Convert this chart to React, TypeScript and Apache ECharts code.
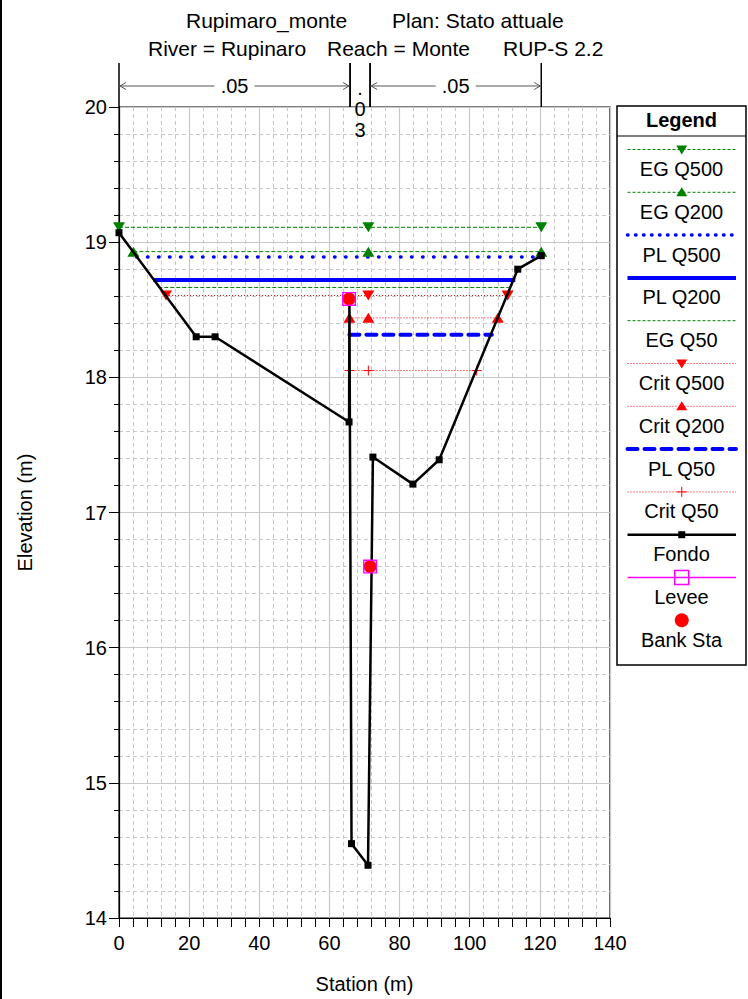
import React, { useEffect, useRef } from "react";
import * as echarts from "echarts";

// ---------- data ----------
const fondoStation = [0, 22.0, 27.4, 65.6, 65.7, 66.3, 71.0, 72.4, 83.8, 91.3, 113.7, 120.4];
const fondoElev = [19.07, 18.3, 18.3, 17.67, 18.58, 14.55, 14.39, 17.41, 17.21, 17.39, 18.8, 18.9];

const bankStation = [65.6, 71.6];
const bankElev = [18.58, 16.6];

const egQ500Station = [0, 71.1, 120.4];
const egQ500Elev = 19.11;
const egQ200Station = [4.1, 71.1, 120.4];
const egQ200Elev = 18.93;
const plQ500Station = [5.0, 120.3];
const plQ500Elev = 18.89;
const plQ200Station = [9.8, 113.0];
const plQ200Elev = 18.72;
const egQ50Station = [11.2, 111.8];
const egQ50Elev = 18.665;
const critQ500Station = [13.4, 71.1, 110.8];
const critQ500Elev = 18.605;
const critQ200Station = [65.7, 71.1, 108.0];
const critQ200Elev = 18.44;
const plQ50Station = [65.7, 106.3];
const plQ50Elev = 18.315;
const critQ50Station = [65.7, 71.1, 102.0];
const critQ50Elev = 18.05;

const manningBreaks = [0, 65.9, 71.6, 120.4];
const manningN = [0.05, 0.03, 0.05];

const xTicks = { min: 0, max: 140, interval: 20 };
const yTicks = { min: 14, max: 20, interval: 1 };

const titleLine1 = ["Rupimaro_monte", "Plan: Stato attuale"];
const titleLine2 = ["River = Rupinaro", "Reach = Monte", "RUP-S 2.2"];

const legendNames = [
  "EG Q500", "EG Q200", "PL Q500", "PL Q200", "EG Q50", "Crit Q500",
  "Crit Q200", "PL Q50", "Crit Q50", "Fondo", "Levee", "Bank Sta",
];

// ---------- styles ----------
const FONT = "Liberation Sans, Arial, sans-serif";
const GREEN = "#008000";
const BLUE = "#0000ff";
const RED = "#ff0000";
const MAGENTA = "#ff00ff";
const PLUS = "path://M5,0L5,10M0,5L10,5";
const FRAME = "path://M0,0L10,0L10,10L0,10Z M1,1L1,9L9,9L9,1Z";

const flat = (st: number[], e: number) => st.map((s) => [s, e]);
const pairs = (a: number[], b: number[]) => a.map((s, i) => [s, b[i]]);

type LegendSpec = {
  color: string;
  width: number;
  dash: number[] | null;
  cap?: string;
  marker?: string;
  line?: boolean;
};

const legendStyles: LegendSpec[] = [
  { color: GREEN, width: 1, dash: [3, 2], marker: "down" },
  { color: GREEN, width: 1, dash: [3, 2], marker: "up" },
  { color: BLUE, width: 3.5, dash: [0.5, 7.5], cap: "round" },
  { color: BLUE, width: 4, dash: null },
  { color: GREEN, width: 1, dash: [3, 2] },
  { color: RED, width: 1, dash: [1, 2], marker: "down" },
  { color: RED, width: 1, dash: [1, 2], marker: "up" },
  { color: BLUE, width: 4, dash: [10, 7], cap: "round" },
  { color: RED, width: 1, dash: [1, 2], marker: "plus" },
  { color: "#000", width: 2.5, dash: null, marker: "square" },
  { color: MAGENTA, width: 1.5, dash: null, marker: "hollow" },
  { color: RED, width: 0, dash: null, marker: "circle", line: false },
];

function buildLegend(): any[] {
  const x0 = 617, x1 = 746, top = 106, bottom = 665;
  const els: any[] = [
    { type: "rect", shape: { x: x0, y: top, width: x1 - x0, height: bottom - top }, style: { fill: "#fff", stroke: "#000", lineWidth: 1.5 }, z: 10 },
    { type: "line", shape: { x1: x0, y1: 136, x2: x1, y2: 136 }, style: { stroke: "#000", lineWidth: 1.2 }, z: 11 },
    { type: "text", x: (x0 + x1) / 2, y: 120, style: { text: "Legend", font: `bold 20px ${FONT}`, fill: "#000", align: "center", verticalAlign: "middle" }, z: 11 },
  ];
  const lx1 = 627.5, lx2 = 736, cx = (lx1 + lx2) / 2;
  legendNames.forEach((name, i) => {
    const st = legendStyles[i];
    const ly = 149.5 + i * 42.8;
    if (st.line !== false) {
      els.push({ type: "line", shape: { x1: lx1, y1: ly, x2: lx2, y2: ly }, style: { stroke: st.color, lineWidth: st.width, lineDash: st.dash || undefined, lineCap: st.cap || "butt" }, z: 11 });
    }
    if (st.marker === "down") {
      els.push({ type: "polygon", shape: { points: [[cx - 5.5, ly - 4], [cx + 5.5, ly - 4], [cx, ly + 5]] }, style: { fill: st.color }, z: 12 });
    } else if (st.marker === "up") {
      els.push({ type: "polygon", shape: { points: [[cx - 5.5, ly + 4], [cx + 5.5, ly + 4], [cx, ly - 5]] }, style: { fill: st.color }, z: 12 });
    } else if (st.marker === "plus") {
      els.push({ type: "line", shape: { x1: cx - 5, y1: ly, x2: cx + 5, y2: ly }, style: { stroke: st.color, lineWidth: 1 }, z: 12 });
      els.push({ type: "line", shape: { x1: cx, y1: ly - 5, x2: cx, y2: ly + 5 }, style: { stroke: st.color, lineWidth: 1 }, z: 12 });
    } else if (st.marker === "square") {
      els.push({ type: "rect", shape: { x: cx - 3.5, y: ly - 3.5, width: 7, height: 7 }, style: { fill: st.color }, z: 12 });
    } else if (st.marker === "hollow") {
      els.push({ type: "rect", shape: { x: cx - 7, y: ly - 7, width: 14, height: 14 }, style: { fill: "none", stroke: st.color, lineWidth: 1.5 }, z: 12 });
    } else if (st.marker === "circle") {
      els.push({ type: "circle", shape: { cx, cy: ly, r: 7 }, style: { fill: st.color }, z: 12 });
    }
    els.push({ type: "text", x: (x0 + x1) / 2, y: ly + 19.5, style: { text: name, font: `20px ${FONT}`, fill: "#000", align: "center", verticalAlign: "middle" }, z: 11 });
  });
  return els;
}

function buildTitle(): any[] {
  const t = (text: string, x: number, y: number) => ({
    type: "text", x, y, style: { text, font: `21px ${FONT}`, fill: "#000", align: "left", verticalAlign: "middle" },
  });
  return [
    t(titleLine1[0], 186, 20),
    t(titleLine1[1], 392, 20),
    t(titleLine2[0], 148, 48),
    t(titleLine2[1], 327, 48),
    t(titleLine2[2], 503, 48),
    { type: "line", shape: { x1: 1, y1: 0, x2: 1, y2: 999 }, style: { stroke: "#000", lineWidth: 2 } },
  ];
}

function manningRender(params: any, api: any) {
  const s0 = api.value(0), s1 = api.value(1), n = api.value(2);
  const p0 = api.coord([s0, yTicks.max]);
  const p1 = api.coord([s1, yTicks.max]);
  const top = p0[1];
  const yA = top - 21;
  const label = String(n).replace(/^0/, "");
  const children: any[] = [
    { type: "line", shape: { x1: p0[0], y1: top - 44, x2: p0[0], y2: top }, style: { stroke: "#000", lineWidth: 1.5 } },
    { type: "line", shape: { x1: p1[0], y1: top - 44, x2: p1[0], y2: top }, style: { stroke: "#000", lineWidth: 1.5 } },
  ];
  const w = p1[0] - p0[0];
  const mid = (p0[0] + p1[0]) / 2;
  if (w > 60) {
    const gap = 20;
    const a = "#555";
    children.push(
      { type: "line", shape: { x1: p0[0], y1: yA, x2: mid - gap, y2: yA }, style: { stroke: a, lineWidth: 1 } },
      { type: "line", shape: { x1: mid + gap, y1: yA, x2: p1[0], y2: yA }, style: { stroke: a, lineWidth: 1 } },
      { type: "polyline", shape: { points: [[p0[0] + 7, yA - 3.5], [p0[0] + 1, yA], [p0[0] + 7, yA + 3.5]] }, style: { stroke: a, fill: "none", lineWidth: 1 } },
      { type: "polyline", shape: { points: [[p1[0] - 7, yA - 3.5], [p1[0] - 1, yA], [p1[0] - 7, yA + 3.5]] }, style: { stroke: a, fill: "none", lineWidth: 1 } },
      { type: "text", style: { text: label, x: mid, y: yA, font: `20px ${FONT}`, fill: "#000", align: "center", verticalAlign: "middle" } }
    );
  } else {
    const chars = label.split("");
    chars.forEach((c, i) => {
      children.push({ type: "text", style: { text: c, x: mid, y: top + 2 + (i - 1) * 21, font: `20px ${FONT}`, fill: "#000", align: "center", verticalAlign: "middle" } });
    });
  }
  return { type: "group", children };
}

function lineSeries(name: string, data: number[][], color: string, width: number, type: any, extra: any = {}) {
  return {
    name, type: "line", data, animation: false,
    lineStyle: { color, width, type, cap: extra.cap || "butt" },
    symbol: extra.symbol || "none",
    symbolSize: extra.symbolSize || 0,
    symbolRotate: extra.symbolRotate || 0,
    showSymbol: !!extra.symbol,
    itemStyle: { color, borderColor: color, borderWidth: extra.borderWidth || 0, opacity: 1 },
    z: extra.z || 3,
    silent: true,
  };
}

export default function App() {
  const ref = useRef<HTMLDivElement>(null);
  useEffect(() => {
    document.body.style.margin = "0";
    const chart = echarts.init(ref.current!, null, { renderer: "svg" });
    const manningData = manningN.map((n, i) => [manningBreaks[i], manningBreaks[i + 1], n]);
    const grey = "#c8c8c8";
    chart.setOption({
      animation: false,
      backgroundColor: "#fff",
      textStyle: { fontFamily: FONT },
      grid: { left: 119, right: 138, top: 107, bottom: 76, show: true, borderColor: "#000", borderWidth: 1.2, containLabel: false },
      xAxis: {
        type: "value", min: xTicks.min, max: xTicks.max, interval: xTicks.interval,
        name: "Station (m)", nameLocation: "middle", nameGap: 56,
        nameTextStyle: { fontSize: 20, color: "#000", fontFamily: FONT },
        axisLine: { lineStyle: { color: "#000", width: 1.2 } },
        axisTick: { show: true, length: 9, lineStyle: { color: "#000" } },
        minorTick: { show: true, splitNumber: 5, length: 9, lineStyle: { color: "#000" } },
        axisLabel: { fontSize: 20, color: "#000", margin: 15, fontFamily: FONT },
        splitLine: { show: true, lineStyle: { color: grey, width: 1.2 } },
        minorSplitLine: { show: true, lineStyle: { color: grey, type: [4, 3], width: 1 } },
      },
      yAxis: {
        type: "value", min: yTicks.min, max: yTicks.max, interval: yTicks.interval,
        name: "Elevation (m)", nameLocation: "middle", nameGap: 84, nameRotate: 90,
        nameTextStyle: { fontSize: 20, color: "#000", fontFamily: FONT },
        axisLine: { show: true, lineStyle: { color: "#000", width: 1.2 } },
        axisTick: { show: true, length: 10, lineStyle: { color: "#000" } },
        minorTick: { show: true, splitNumber: 5, length: 5, lineStyle: { color: "#000" } },
        axisLabel: { fontSize: 20, color: "#000", margin: 12, fontFamily: FONT },
        splitLine: { show: true, lineStyle: { color: grey, width: 1.2 } },
        minorSplitLine: { show: true, lineStyle: { color: grey, type: [4, 3], width: 1 } },
      },
      series: [
        lineSeries("EG Q500", flat(egQ500Station, egQ500Elev), GREEN, 1, [4, 2], { symbol: "triangle", symbolSize: [12, 10], symbolRotate: 180 }),
        lineSeries("EG Q200", flat(egQ200Station, egQ200Elev), GREEN, 1, [4, 2], { symbol: "triangle", symbolSize: [12, 10] }),
        lineSeries("PL Q500", flat(plQ500Station, plQ500Elev), BLUE, 3.5, [0.5, 10.5], { cap: "round" }),
        lineSeries("PL Q200", flat(plQ200Station, plQ200Elev), BLUE, 4, "solid"),
        lineSeries("EG Q50", flat(egQ50Station, egQ50Elev), GREEN, 1, [4, 2]),
        lineSeries("Crit Q500", flat(critQ500Station, critQ500Elev), RED, 1, [1, 2], { symbol: "triangle", symbolSize: [12, 10], symbolRotate: 180 }),
        lineSeries("Crit Q200", flat(critQ200Station, critQ200Elev), RED, 1, [1, 2], { symbol: "triangle", symbolSize: [12, 10] }),
        lineSeries("PL Q50", flat(plQ50Station, plQ50Elev), BLUE, 4, [10, 7], { cap: "round" }),
        lineSeries("Crit Q50", flat(critQ50Station, critQ50Elev), RED, 1, [1, 2], { symbol: PLUS, symbolSize: 10, borderWidth: 1 }),
        lineSeries("Fondo", pairs(fondoStation, fondoElev), "#000", 2.5, "solid", { symbol: "rect", symbolSize: 7, z: 4 }),
        {
          name: "Bank Sta", type: "scatter", data: pairs(bankStation, bankElev), symbol: "circle", symbolSize: 13,
          itemStyle: { color: RED, opacity: 1 }, z: 5, silent: true,
        },
        {
          name: "Levee", type: "scatter", data: pairs(bankStation, bankElev), symbol: FRAME, symbolSize: 14,
          itemStyle: { color: MAGENTA, opacity: 1 }, z: 6, silent: true,
        },
        {
          name: "Manning", type: "custom", data: manningData, renderItem: manningRender, clip: false,
          encode: { x: [0, 1], y: 2 }, silent: true, z: 7,
        },
      ],
      graphic: [...buildTitle(), ...buildLegend()],
    });
    return () => chart.dispose();
  }, []);
  return <div ref={ref} style={{ width: 748, height: 999 }} />;
}
